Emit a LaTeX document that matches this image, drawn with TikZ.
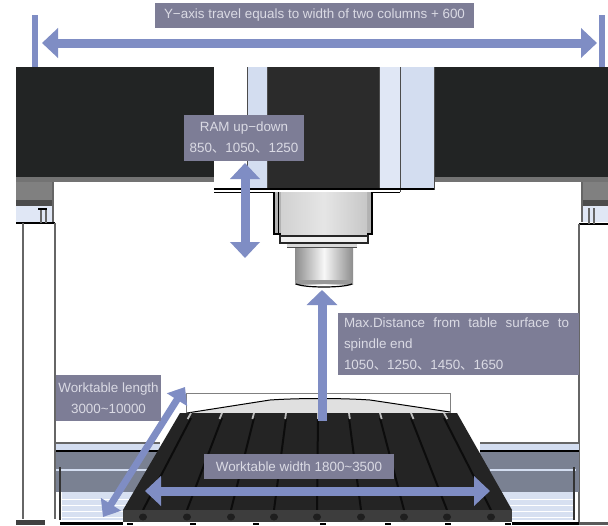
\documentclass[tikz,border=0pt]{standalone}
\usepackage{fontspec}
\setmainfont{Liberation Sans}
\newfontfamily\cjk{Noto Sans CJK SC}
\usetikzlibrary{arrows.meta}
\definecolor{bluearrow}{HTML}{7F8DC4}
\definecolor{labelbg}{HTML}{7D7D96}
\definecolor{labeltx}{HTML}{DADAE4}
\definecolor{beam}{HTML}{222424}
\definecolor{paleblue}{HTML}{D3DDF0}
\definecolor{railgrey}{HTML}{7A8192}
\definecolor{tabledark}{HTML}{242424}
\definecolor{slotdark}{HTML}{0C0C0C}
\newcommand{\dun}{{\cjk 、}}
\tikzset{
  x=1pt,y=-1pt,
  labelbox/.style={fill=labelbg,text=labeltx,inner sep=0pt,font=\fontsize{13.4}{21}\selectfont,align=center},
  dimtwo/.style={draw=bluearrow,line width=9pt,{Triangle[length=16pt,width=29pt]}-{Triangle[length=16pt,width=29pt]}},
  dimslant/.style={draw=bluearrow,line width=7pt,{Triangle[length=15pt,width=23pt]}-{Triangle[length=15pt,width=23pt]}},
  dimone/.style={draw=bluearrow,line width=9pt,-{Triangle[length=15pt,width=30pt]}},
  stopbar/.style={draw=bluearrow,line width=6pt},
  edgeline/.style={draw=black!60,line width=1.4pt},
  heavyline/.style={draw=black,line width=1.4pt}
}
\begin{document}
\begin{tikzpicture}
\useasboundingbox (0,0) rectangle (608,525);
\fill[white] (0,0) rectangle (608,525);
% beams
\fill[beam] (16,67) rectangle (214,177);
\fill[beam] (434,67) rectangle (608,177);
\fill[black!55] (16,177) rectangle (214,182);
\fill[black!55] (434,177) rectangle (608,182);
% column heads, left
\fill[black!50] (16,182) rectangle (53,200);
\fill[black!70] (16,200) rectangle (53,206);
\fill[paleblue!70] (16,206) rectangle (53,222);
\draw[edgeline] (53,182) -- (53,222);
\draw[heavyline] (16,223) -- (55,223);
\draw[edgeline] (23,223) -- (23,519);
\draw[edgeline] (55,223) -- (55,519);
\draw[edgeline] (41,210) -- (41,223) (46,210) -- (46,223);
\draw[heavyline] (38,209) -- (47,209);
% column heads, right
\fill[black!50] (582,182) rectangle (608,200);
\fill[black!70] (582,200) rectangle (608,206);
\fill[paleblue!70] (582,206) rectangle (608,222);
\draw[edgeline] (582,182) -- (582,222);
\draw[heavyline] (579,224) -- (608,224);
\draw[edgeline] (579,224) -- (579,525);
\draw[edgeline] (589,208) -- (589,224) (594,208) -- (594,224);
% rails left
\fill[paleblue] (56,443) rectangle (160,451);
\fill[railgrey] (56,452) rectangle (160,492);
\fill[paleblue!90!white] (62,492) rectangle (140,520);
\draw[heavyline] (56,451) -- (160,451);
\draw[edgeline] (56,443) -- (160,443);
\draw[paleblue,line width=1.2pt] (56,470) -- (150,470);
\foreach \yy in {499,505,511,517}{\draw[white,line width=1pt] (62,\yy) -- (130,\yy);}
\draw[black!80,line width=1.2pt] (60,467) -- (60,520);
% rails right
\fill[paleblue] (480,443) rectangle (579,451);
\fill[railgrey] (480,452) rectangle (579,492);
\fill[paleblue!90!white] (500,492) rectangle (573,520);
\draw[heavyline] (480,451) -- (579,451);
\draw[edgeline] (480,443) -- (579,443);
\draw[paleblue,line width=1.2pt] (490,470) -- (576,470);
\foreach \yy in {499,505,511,517}{\draw[white,line width=1pt] (510,\yy) -- (573,\yy);}
\draw[black!80,line width=1.2pt] (574,467) -- (574,520);
% ram
\fill[white] (214,67) rectangle (247,188);
\fill[paleblue] (247,67) rectangle (267,188);
\fill[black!83] (267,67) rectangle (379,188);
\fill[paleblue!70!white] (379,67) rectangle (400,188);
\fill[paleblue] (400,67) rectangle (434,188);
\draw[black!70,line width=.6pt] (247,67) -- (247,188) (267,67) -- (267,188) (379,67) -- (379,188) (400,67) -- (400,192) (434,67) -- (434,190);
\draw[heavyline] (214,189) -- (434,189);
\draw[black,line width=.8pt] (214,192) -- (400,192);
% spindle carrier
\fill[black!30] (274,192) rectangle (373,234);
\path[left color=black!18,right color=black!22,middle color=black!10] (281,192) rectangle (367,234);
\draw[black,line width=1.2pt] (274,192) -- (274,234) -- (281,234);
\draw[black,line width=.8pt] (278,192) -- (278,234);
\draw[black,line width=1.6pt] (372,192) -- (372,234) -- (367,234);
\draw[black!85,line width=1.2pt,fill=black!6] (280,236) rectangle (368,243);
\fill[black!15] (287,244) rectangle (357,247);
\draw[black!70,line width=.8pt] (287,247) -- (357,247);
\path[left color=black!45,right color=black!45,middle color=black!3] (295,248) rectangle (353,284);
\fill[black!40] (295,280) rectangle (353,284);
\draw[black,line width=1.2pt] (296,284) .. controls (305,288) and (343,288) .. (352,284);
% table
\fill[black!12] (187,413) -- (270,400) .. controls (300,398) and (340,398) .. (370,400) -- (450,412) -- (450,413) -- cycle;
\draw[black!50,line width=.8pt] (186,413) -- (186,393) -- (450,393) -- (450,413);
\draw[black,line width=1pt] (187,413) -- (270,400) .. controls (300,398) and (340,398) .. (370,400) -- (450,412);
\fill[tabledark] (180,413) -- (457,413) -- (512,510) -- (123,510) -- cycle;
\foreach \tx/\bx in {191/143,222/187,254/231,286/274,318/317,349/361,380/404,411/447,444/491}{
  \draw[slotdark,line width=2pt] (\tx,418) -- (\bx,510);
  \draw[black!25,line width=1.8pt] (\tx,413) -- ({\tx-(\tx-\bx)*0.07},419);
}
\fill[black!76] (123,510) rectangle (512,522);
\foreach \bx in {143,187,231,274,317,361,404,447,491}{
  \fill[black!88] (\bx,517) ellipse (4 and 3.5);
}
% bottom specks
\fill[black] (60,522) rectangle (123,525);
\fill[black!75] (16,520) rectangle (45,525);
\fill[black] (512,522) rectangle (579,525);
\fill[black!65] (579,522) rectangle (608,525);
\foreach \bx in {127,190,253,320,385,445,505}{\fill[black] (\bx,523) rectangle ++(6,2);}
% stop bars and arrows
\coordinate (yLeftTop) at (35,15);
\coordinate (yLeftBot) at (35,67);
\coordinate (yRightTop) at (602,15);
\coordinate (yRightBot) at (602,67);
\coordinate (yL) at (42,43);
\coordinate (yR) at (597,43);
\coordinate (ramT) at (245,163);
\coordinate (ramB) at (245,258);
\coordinate (distB) at (322,421);
\coordinate (distT) at (322,290);
\coordinate (lenT) at (185,387);
\coordinate (lenB) at (103,517);
\coordinate (widL) at (145,491);
\coordinate (widR) at (490,491);
\draw[stopbar] (yLeftTop) -- (yLeftBot);
\draw[stopbar] (yRightTop) -- (yRightBot);
\draw[dimtwo] (yL) -- (yR);
\draw[dimtwo] (ramT) -- (ramB);
\draw[dimone] (distB) -- (distT);
\draw[dimslant] (lenT) -- (lenB);
\draw[dimtwo] (widL) -- (widR);
% labels
\node[labelbox,minimum width=319pt,minimum height=25pt] (yaxis) at (314.5,15.5) {Y−axis travel equals to width of two columns + 600};
\node[labelbox,minimum width=120pt,minimum height=46pt] (ram) at (244,138) {RAM up−down\\850\dun 1050\dun 1250};
\node[labelbox,minimum width=241pt,minimum height=62pt,align=left] (dist) at (458.5,344) {\hbox to 229pt{Max.Distance\hfill from\hfill table\hfill surface\hfill to\hspace*{4pt}}\\spindle end\\1050\dun 1250\dun 1450\dun 1650};
\node[labelbox,minimum width=105pt,minimum height=46pt] (len) at (108.5,398) {Worktable length\\3000\textasciitilde10000};
\node[labelbox,minimum width=190pt,minimum height=25pt] (wid) at (299,466.5) {Worktable width 1800\textasciitilde3500};
\end{tikzpicture}
\end{document}
